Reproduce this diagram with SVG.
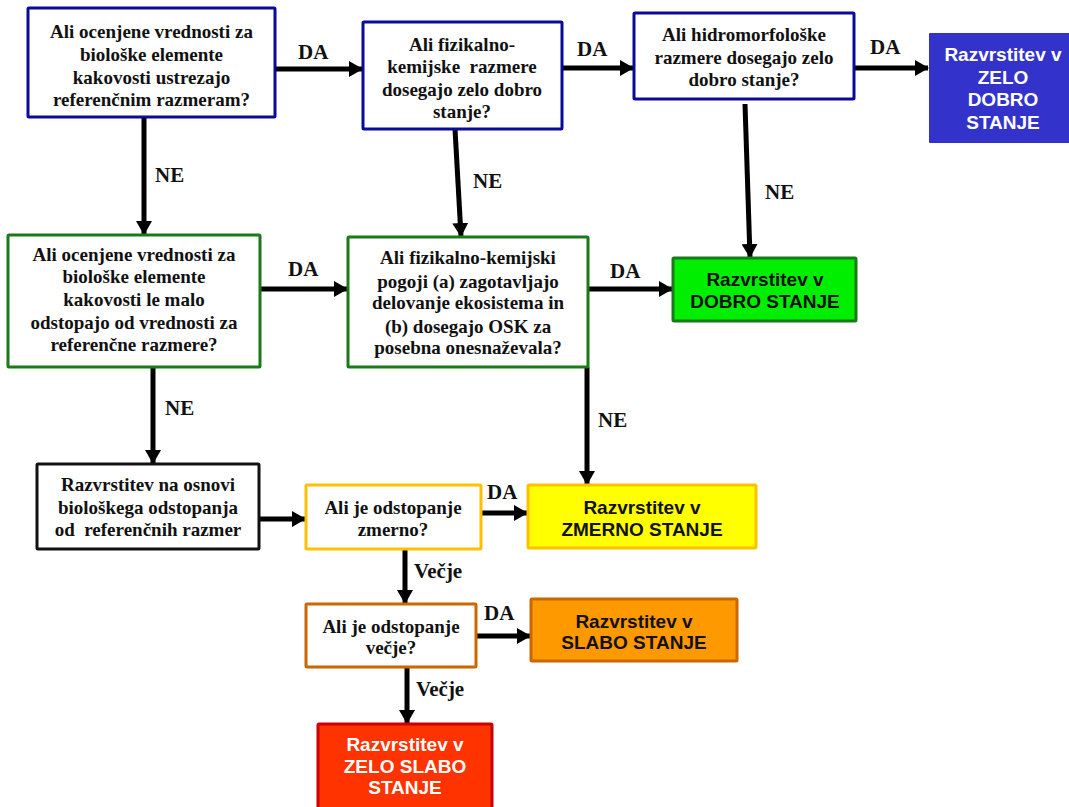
<svg xmlns="http://www.w3.org/2000/svg" width="1069" height="807" viewBox="0 0 1069 807">
<style>
.q{font-family:"Liberation Serif","Times New Roman",serif;font-weight:bold;font-size:19px;fill:#111;text-anchor:middle}
.r{font-family:"Liberation Sans",Arial,sans-serif;font-weight:bold;font-size:19px;fill:#111;text-anchor:middle}
.w{fill:#fff}
.lbl{font-family:"Liberation Serif","Times New Roman",serif;font-weight:bold;font-size:21px;fill:#111}
.box{fill:#fff;stroke-width:3}
.blue{stroke:#0a0a99}
.green{stroke:#1a7a1a}
.edge{stroke:#000;stroke-width:5;fill:none;marker-end:url(#ah)}
</style>
<defs>
<marker id="ah" viewBox="0 0 14 16" refX="13" refY="8" markerWidth="14" markerHeight="16" markerUnits="userSpaceOnUse" orient="auto">
<path d="M0,0 L14,8 L0,16 z" fill="#000"/>
</marker>
</defs>
<rect width="1069" height="807" fill="#fff"/>

<g id="connectors">
<line class="edge" x1="275" y1="69" x2="362" y2="69"/>
<line class="edge" x1="562" y1="68" x2="633" y2="68"/>
<line class="edge" x1="854" y1="68" x2="928" y2="68"/>
<line class="edge" x1="144" y1="117" x2="144" y2="234"/>
<line class="edge" x1="455" y1="129" x2="461" y2="236"/>
<line class="edge" x1="745" y1="104" x2="750" y2="257"/>
<line class="edge" x1="260" y1="289" x2="347" y2="289"/>
<line class="edge" x1="588" y1="289" x2="672" y2="289"/>
<line class="edge" x1="153" y1="367" x2="153" y2="463"/>
<line class="edge" x1="587" y1="367" x2="587" y2="484"/>
<line class="edge" x1="259" y1="519" x2="305" y2="519"/>
<line class="edge" x1="481" y1="513" x2="527" y2="513"/>
<line class="edge" x1="405" y1="549" x2="405" y2="603"/>
<line class="edge" x1="476" y1="636" x2="530" y2="636"/>
<line class="edge" x1="407" y1="667" x2="407" y2="723"/>
<text class="lbl" x="298" y="59">DA</text>
<text class="lbl" x="577" y="56">DA</text>
<text class="lbl" x="870" y="54">DA</text>
<text class="lbl" x="155" y="182">NE</text>
<text class="lbl" x="473" y="188">NE</text>
<text class="lbl" x="765" y="199">NE</text>
<text class="lbl" x="288" y="276">DA</text>
<text class="lbl" x="610" y="278">DA</text>
<text class="lbl" x="165" y="415">NE</text>
<text class="lbl" x="598" y="427">NE</text>
<text class="lbl" x="487" y="499">DA</text>
<text class="lbl" x="414" y="578">Večje</text>
<text class="lbl" x="484" y="620">DA</text>
<text class="lbl" x="416" y="696">Večje</text>
</g>

<g id="q1">
<rect class="box blue" x="28" y="8" width="247" height="109" rx="1"/>
<text class="q" x="151.5" y="38">Ali ocenjene vrednosti za</text>
<text class="q" x="151.5" y="61">biološke elemente</text>
<text class="q" x="151.5" y="84">kakovosti ustrezajo</text>
<text class="q" x="151.5" y="106">referenčnim razmeram?</text>
</g>

<g id="q2">
<rect class="box blue" x="363" y="22" width="199" height="107" rx="1"/>
<text class="q" x="462" y="51">Ali fizikalno-</text>
<text class="q" x="462" y="73" xml:space="preserve">kemijske  razmere</text>
<text class="q" x="462" y="96">dosegajo zelo dobro</text>
<text class="q" x="462" y="118">stanje?</text>
</g>

<g id="q3">
<rect class="box blue" x="634" y="13" width="220" height="86" rx="1"/>
<text class="q" x="744" y="41">Ali hidromorfološke</text>
<text class="q" x="744" y="64">razmere dosegajo zelo</text>
<text class="q" x="744" y="86">dobro stanje?</text>
</g>

<g id="r-zelo-dobro">
<rect x="929" y="33" width="142" height="110" rx="1" fill="#3333cc"/>
<text class="r w" x="1003" y="61">Razvrstitev v</text>
<text class="r w" x="1003" y="84">ZELO</text>
<text class="r w" x="1003" y="106">DOBRO</text>
<text class="r w" x="1003" y="129">STANJE</text>
</g>

<g id="q4">
<rect class="box green" x="8" y="235" width="252" height="132" rx="1"/>
<text class="q" x="134" y="261">Ali ocenjene vrednosti za</text>
<text class="q" x="134" y="283">biološke elemente</text>
<text class="q" x="134" y="306">kakovosti le malo</text>
<text class="q" x="134" y="329">odstopajo od vrednosti za</text>
<text class="q" x="134" y="351">referenčne razmere?</text>
</g>

<g id="q5">
<rect class="box green" x="348" y="237" width="240" height="130" rx="1"/>
<text class="q" x="468" y="264">Ali fizikalno-kemijski</text>
<text class="q" x="468" y="288">pogoji (a) zagotavljajo</text>
<text class="q" x="468" y="309">delovanje ekosistema in</text>
<text class="q" x="468" y="333">(b) dosegajo OSK za</text>
<text class="q" x="468" y="354">posebna onesnaževala?</text>
</g>

<g id="r-dobro">
<rect x="673" y="258" width="183" height="63" rx="1" fill="#00ee00" stroke="#1a7a1a" stroke-width="3"/>
<text class="r" x="765" y="286">Razvrstitev v</text>
<text class="r" x="765" y="308">DOBRO STANJE</text>
</g>

<g id="b1">
<rect class="box" stroke="#111" x="37" y="464" width="222" height="85" rx="1"/>
<text class="q" x="148" y="491">Razvrstitev na osnovi</text>
<text class="q" x="148" y="514">biološkega odstopanja</text>
<text class="q" x="148" y="536" xml:space="preserve">od  referenčnih razmer</text>
</g>

<g id="q6">
<rect class="box" stroke="#ffc000" x="306" y="485" width="175" height="64" rx="1"/>
<text class="q" x="393" y="514">Ali je odstopanje</text>
<text class="q" x="393" y="536">zmerno?</text>
</g>

<g id="r-zmerno">
<rect x="528" y="485" width="228" height="63" rx="1" fill="#ffff00" stroke="#ffc000" stroke-width="3"/>
<text class="r" x="642" y="514">Razvrstitev v</text>
<text class="r" x="642" y="536">ZMERNO STANJE</text>
</g>

<g id="q7">
<rect class="box" stroke="#cc6600" x="306" y="604" width="170" height="63" rx="1"/>
<text class="q" x="391" y="633">Ali je odstopanje</text>
<text class="q" x="391" y="654">večje?</text>
</g>

<g id="r-slabo">
<rect x="531" y="599" width="206" height="62" rx="1" fill="#ff9900" stroke="#cc6600" stroke-width="3"/>
<text class="r" x="634" y="628">Razvrstitev v</text>
<text class="r" x="634" y="649">SLABO STANJE</text>
</g>

<g id="r-zelo-slabo">
<rect x="318" y="724" width="174" height="90" rx="1" fill="#ff3300" stroke="#cc0000" stroke-width="3"/>
<text class="r w" x="405" y="751">Razvrstitev v</text>
<text class="r w" x="405" y="773">ZELO SLABO</text>
<text class="r w" x="405" y="794">STANJE</text>
</g>
</svg>
